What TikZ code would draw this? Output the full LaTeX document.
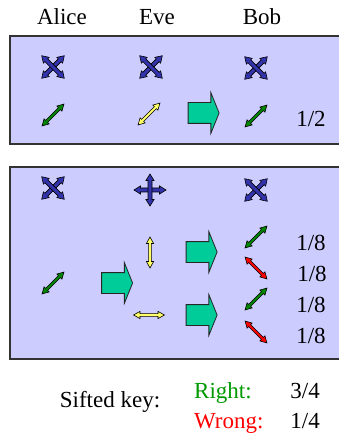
\documentclass[tikz,border=0pt]{standalone}
\usepackage{fontspec}
\setmainfont{Liberation Serif}
\usetikzlibrary{shapes.arrows}
\definecolor{lavender}{rgb}{0.80, 0.80, 1.00}
\definecolor{basisblue}{rgb}{0.20, 0.20, 0.67}
\definecolor{leafgreen}{rgb}{0.00, 0.52, 0.00}
\definecolor{paleyellow}{rgb}{1.00, 1.00, 0.40}
\definecolor{brightred}{rgb}{1.00, 0.00, 0.00}
\definecolor{seagreen}{rgb}{0.00, 0.80, 0.60}
\definecolor{rightgreen}{rgb}{0.00, 0.60, 0.00}
% double headed arrow: half length, half shaft, half head, head length
\newcommand\dblpath[4]{%
  \filldraw[draw=black, line width=0.6pt, line join=miter]
    (-#1,0) -- (-#1+#4,#3) -- (-#1+#4,#2) -- (#1-#4,#2) -- (#1-#4,#3)
    -- (#1,0) -- (#1-#4,-#3) -- (#1-#4,-#2) -- (-#1+#4,-#2) -- (-#1+#4,-#3) -- cycle;}
\tikzset{
  panel/.style={
    draw=black!80,
    line width=1.2pt,
    fill=lavender
  },
  lbl/.style={
    font=\fontsize{23}{26}\selectfont,
    inner sep=0pt,
    anchor=base
  },
  fat/.style={
    single arrow,
    draw=black!85,
    fill=seagreen,
    line width=0.8pt,
    inner xsep=0pt,
    inner ysep=10pt,
    minimum height=31pt,
    single arrow head extend=10pt,
    single arrow tip angle=136
  },
  pics/thin/.style={code={\dblpath{15.5}{1.4}{3.6}{6.5}}},
  pics/basis/.style={code={\dblpath{16}{2}{4.1}{6.5}}}
}
\begin{document}
\begin{tikzpicture}[x=1pt,y=-1pt]
\useasboundingbox (0,0) rectangle (338,435);
% names
\node[lbl] (alice) at (62,25) {Alice};
\node[lbl] (eve) at (157,25) {Eve};
\node[lbl] (bob) at (262,25) {Bob};
% first panel
\draw[panel] (10,36) rectangle (345,144);
\pic[fill=basisblue, rotate=45] at (53,67) {basis};
\pic[fill=basisblue, rotate=-45] at (53,67) {basis};
\pic[fill=basisblue, rotate=45] at (151,67) {basis};
\pic[fill=basisblue, rotate=-45] at (151,67) {basis};
\pic[fill=basisblue, rotate=45] at (256,68) {basis};
\pic[fill=basisblue, rotate=-45] at (256,68) {basis};
\pic[fill=leafgreen, rotate=45] at (53,115) {thin};
\pic[fill=paleyellow, rotate=45] at (149,114) {thin};
\node[fat] (f1) at (201.5,113) {};
\pic[fill=leafgreen, rotate=45] at (256,116) {thin};
\node[lbl] (p1) at (311,127) {1/2};
% second panel
\draw[panel] (10,167) rectangle (345,359);
\pic[fill=basisblue, rotate=45] at (53,188) {basis};
\pic[fill=basisblue, rotate=-45] at (53,188) {basis};
\pic[fill=basisblue] at (150,190) {basis};
\pic[fill=basisblue, rotate=90] at (150,190) {basis};
\pic[fill=basisblue, rotate=45] at (256,190) {basis};
\pic[fill=basisblue, rotate=-45] at (256,190) {basis};
\pic[fill=leafgreen, rotate=45] at (53,283) {thin};
\node[fat] (f2) at (115,283) {};
\pic[fill=paleyellow, rotate=90] at (150,252.5) {thin};
\pic[fill=paleyellow] at (149,315) {thin};
\node[fat] (f3) at (199.5,252) {};
\node[fat] (f4) at (199.5,315) {};
\pic[fill=leafgreen, rotate=45] at (256,237) {thin};
\pic[fill=brightred, rotate=-45] at (256,268) {thin};
\pic[fill=leafgreen, rotate=45] at (256,299) {thin};
\pic[fill=brightred, rotate=-45] at (256,332) {thin};
\node[lbl] (q1) at (311,250) {1/8};
\node[lbl] (q2) at (312,281) {1/8};
\node[lbl] (q3) at (311,312) {1/8};
\node[lbl] (q4) at (311,343) {1/8};
% sifted key
\node[lbl] (sift) at (110,407) {Sifted key:};
\node[lbl, anchor=base west, text=rightgreen] (right) at (194,398) {Right:};
\node[lbl, anchor=base west, text=brightred] (wrong) at (194,428) {Wrong:};
\node[lbl, anchor=base east] (r34) at (320,398) {3/4};
\node[lbl, anchor=base east] (r14) at (320,428) {1/4};
\end{tikzpicture}
\end{document}
